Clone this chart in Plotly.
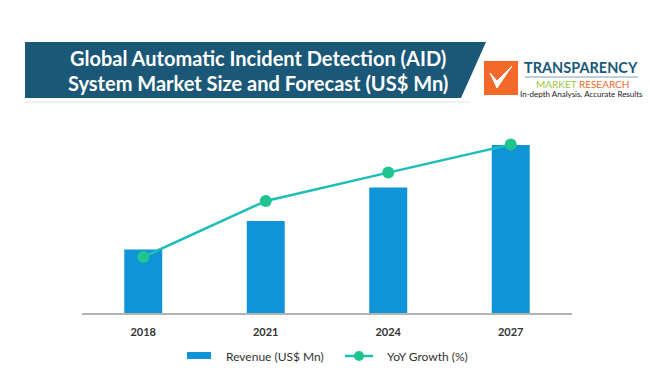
import plotly.graph_objects as go

# ---- data (relative values) ----
years = ["2018", "2021", "2024", "2027"]
revenue = [63.4, 92.0, 125.4, 168.0]        # Revenue (US$ Mn), relative scale
yoy_growth = [56.0, 112.0, 140.4, 168.4]    # YoY Growth (%), relative scale
series_names = ["Revenue (US$ Mn)", "YoY Growth (%)"]
title_lines = ["Global Automatic Incident Detection (AID)",
               "System Market Size and Forecast (US$ Mn)"]

W, H = 650, 385
ML, MR, MT, MB = 82, 78, 130, 72
PW, PH = W - ML - MR, H - MT - MB


def px(x):
    return (x - ML) / PW


def py(y):
    return (H - MB - y) / PH


BAR = "#0f95d7"
LINE = "#1cbfb8"
MARK = "#1fc48f"
DARK = "#1b5877"
ORANGE = "#f2692a"

fig = go.Figure()
fig.add_trace(go.Bar(x=years, y=revenue, name=series_names[0],
                     marker=dict(color=BAR, line=dict(width=0)),
                     width=0.31, showlegend=False))
fig.add_trace(go.Scatter(x=years, y=yoy_growth, name=series_names[1],
                         mode="lines+markers", yaxis="y2",
                         line=dict(color=LINE, width=2.5),
                         marker=dict(color=MARK, size=12),
                         showlegend=False))

shapes = []
annotations = []

# header banner
p = lambda x, y: f"{px(x):.5f},{py(y):.5f}"
shapes.append(dict(type="path", xref="paper", yref="paper",
                   path=f"M {p(25,42)} L {p(486,42)} L {p(461,98)} L {p(25,98)} Z",
                   fillcolor=DARK, line=dict(width=0), layer="above"))
shapes.append(dict(type="line", xref="paper", yref="paper",
                   x0=px(25), x1=px(470), y0=py(102), y1=py(102),
                   line=dict(color="#e4e4e4", width=1)))
for line_txt, yc in zip(title_lines, [58, 83]):
    annotations.append(dict(xref="paper", yref="paper", x=px(258), y=py(yc),
                            text="<b>" + line_txt + "</b>",
                            showarrow=False, xanchor="center", yanchor="middle",
                            font=dict(family="Lato", size=20, color="white")))

# logo
shapes.append(dict(type="rect", xref="paper", yref="paper",
                   x0=px(484), x1=px(518), y0=py(95), y1=py(61),
                   fillcolor=ORANGE, line=dict(width=0)))
shapes.append(dict(type="path", xref="paper", yref="paper",
                   path=f"M {p(490,73)} L {p(497,88)} L {p(512,66)} L {p(497,81)} Z",
                   fillcolor="white", line=dict(color="white", width=1)))
shapes.append(dict(type="line", xref="paper", yref="paper",
                   x0=px(525), x1=px(638), y0=py(77), y1=py(77),
                   line=dict(color="#7fa3b5", width=1)))
annotations.append(dict(xref="paper", yref="paper", x=px(581), y=py(67.5),
                        text="<b>TRANSPARENCY</b>", showarrow=False,
                        xanchor="center", yanchor="middle",
                        font=dict(family="Lato", size=14.5, color=DARK)))
annotations.append(dict(xref="paper", yref="paper", x=px(582), y=py(84),
                        text="<span style='color:#9bc53d'>MARKET</span> "
                             "<span style='color:#f2692a'>RESEARCH</span>",
                        showarrow=False, xanchor="center", yanchor="middle",
                        font=dict(family="Lato", size=10)))
annotations.append(dict(xref="paper", yref="paper", x=px(581), y=py(94),
                        text="In-depth Analysis. Accurate Results", showarrow=False,
                        xanchor="center", yanchor="middle",
                        font=dict(family="Liberation Sans Narrow, Lato", size=8, color="#222")))

# legend (manual)
shapes.append(dict(type="rect", xref="paper", yref="paper",
                   x0=px(187), x1=px(211), y0=py(359), y1=py(352),
                   fillcolor=BAR, line=dict(width=0)))
annotations.append(dict(xref="paper", yref="paper", x=px(224), y=py(356),
                        text=series_names[0], showarrow=False,
                        xanchor="left", yanchor="middle",
                        font=dict(family="Lato", size=12, color="#333")))
shapes.append(dict(type="line", xref="paper", yref="paper",
                   x0=px(345), x1=px(373), y0=py(356), y1=py(356),
                   line=dict(color=LINE, width=2.5)))
shapes.append(dict(type="circle", xref="paper", yref="paper",
                   x0=px(354), x1=px(364), y0=py(361), y1=py(351),
                   fillcolor=MARK, line=dict(width=0)))
annotations.append(dict(xref="paper", yref="paper", x=px(385), y=py(356),
                        text=series_names[1], showarrow=False,
                        xanchor="left", yanchor="middle",
                        font=dict(family="Lato", size=12, color="#333")))

fig.update_layout(
    width=W, height=H, autosize=False,
    margin=dict(l=ML, r=MR, t=MT, b=MB),
    paper_bgcolor="white", plot_bgcolor="white",
    showlegend=False,
    xaxis=dict(showline=True, linecolor="#b3b3b3", linewidth=1.5,
               showgrid=False, ticks="", zeroline=False,
               tickfont=dict(family="Lato", size=11, color="#333"),
               ticklabelstandoff=8, tickprefix="<b>", ticksuffix="</b>"),
    yaxis=dict(range=[0, PH], visible=False, showgrid=False, zeroline=False),
    yaxis2=dict(range=[0, PH], visible=False, overlaying="y", side="right",
                showgrid=False, zeroline=False),
    shapes=shapes,
    annotations=annotations,
)

fig.write_html("out.html", config={"displayModeBar": False},
               post_script="document.body.style.margin='0';document.body.style.padding='0';")
